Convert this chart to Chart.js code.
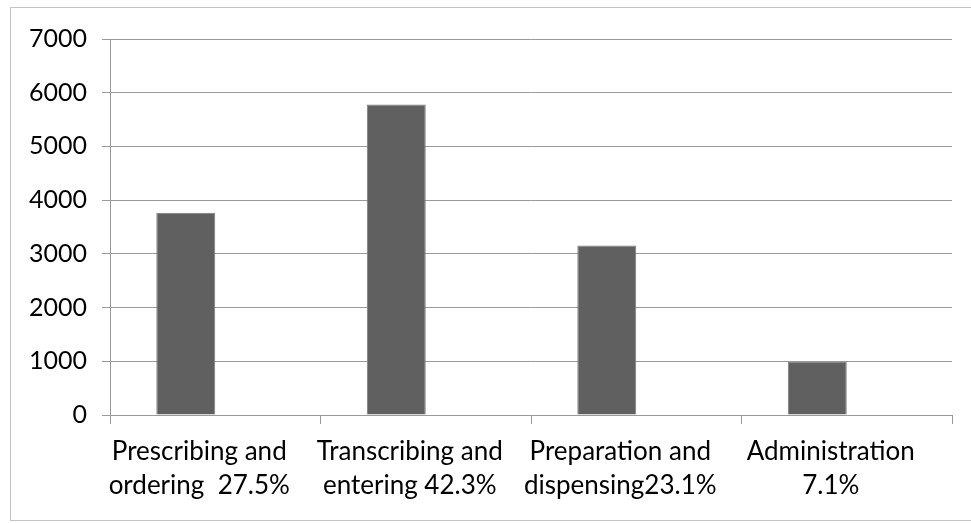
<!DOCTYPE html>
<html>
<head>
<meta charset="utf-8">
<script src="https://cdn.jsdelivr.net/npm/chart.js@4"></script>
<style>
  html, body { margin: 0; padding: 0; background: #fff; overflow: hidden; }
  #wrap { position: relative; width: 971px; height: 523px; }
  #frame { position: absolute; left: 10px; top: 7px; width: 975px; height: 514px;
           border: 1px solid #c4c4c4; box-sizing: border-box; pointer-events: none; }
  canvas { position: absolute; left: 0; top: 0; }
</style>
</head>
<body>
<div id="wrap">
  <canvas id="c" width="971" height="523"></canvas>
  <div id="frame"></div>
</div>
<script>
// ---- data ----
const categories = [
  ["Prescribing and", "ordering  27.5%"],
  ["Transcribing and", "entering 42.3%"],
  ["Preparation and", "dispensing23.1%"],
  ["Administration", "7.1%"]
];
const errorCounts = [3765, 5780, 3155, 990];
const emptySeries = [null, null, null, null]; // second (empty) series in the original chart
const yTicks = [0, 1000, 2000, 3000, 4000, 5000, 6000, 7000];

const FONT = "Lato, 'Open Sans', sans-serif";

new Chart(document.getElementById('c'), {
  type: 'bar',
  data: {
    labels: categories,
    datasets: [
      {
        data: errorCounts,
        backgroundColor: '#606060',
        borderColor: '#7c7c7c',
        borderWidth: 1,
        categoryPercentage: 0.56,
        barPercentage: 1.0
      },
      {
        data: emptySeries,
        backgroundColor: '#606060',
        categoryPercentage: 0.56,
        barPercentage: 1.0
      }
    ]
  },
  options: {
    responsive: false,
    animation: false,
    devicePixelRatio: 1,
    layout: { padding: { left: 0, top: 39, right: 19, bottom: 0 } },
    plugins: { legend: { display: false }, tooltip: { enabled: false } },
    scales: {
      x: {
        grid: {
          offset: true,
          drawOnChartArea: false,
          drawTicks: true,
          tickLength: 9,
          color: '#9a9a9a'
        },
        border: { display: true, color: '#9a9a9a' },
        ticks: {
          color: '#000',
          maxRotation: 0,
          autoSkip: false,
          padding: 11,
          labelOffset: -16,
          font: { family: FONT, size: 26, lineHeight: 1.3 }
        },
        afterFit(scale) { scale.height = 108; }
      },
      y: {
        min: 0,
        max: 7000,
        afterBuildTicks(scale) { scale.ticks = yTicks.map(v => ({ value: v })); },
        grid: { color: '#9a9a9a', tickLength: 8 },
        border: { display: true, color: '#9a9a9a' },
        ticks: {
          color: '#000',
          padding: 15,
          callback: (v) => String(v),
          font: { family: FONT, size: 25 }
        },
        afterFit(scale) { scale.width = 110; }
      }
    }
  }
});
</script>
</body>
</html>
